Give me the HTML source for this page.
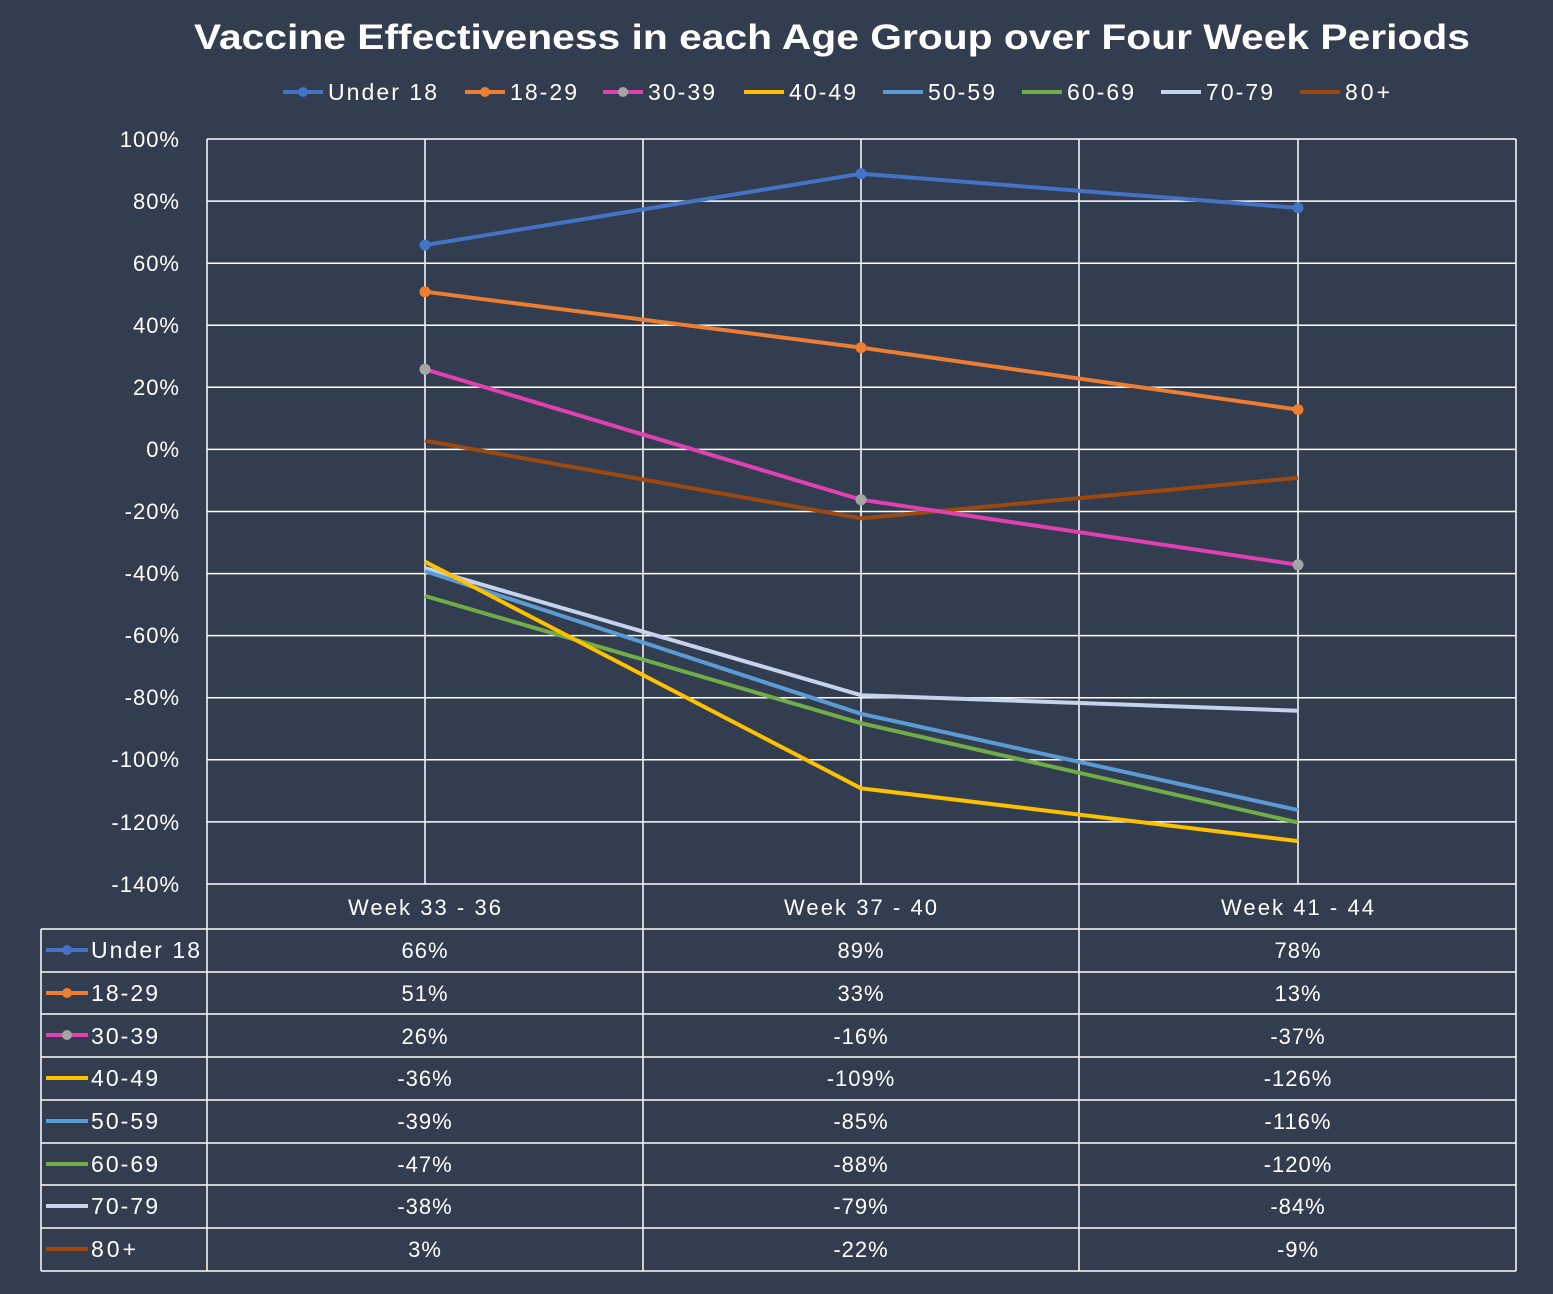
<!DOCTYPE html>
<html><head><meta charset="utf-8"><style>
html,body{margin:0;padding:0;background:#333d50;}
svg{display:block;}
text{font-family:"Liberation Sans",sans-serif;fill:#fff;}
</style></head><body>
<svg width="1553" height="1294" viewBox="0 0 1553 1294" xmlns="http://www.w3.org/2000/svg">
<rect width="1553" height="1294" fill="#333d50"/>
<text x="832" y="49" text-anchor="middle" font-size="35" font-weight="bold" textLength="1276" lengthAdjust="spacingAndGlyphs">Vaccine Effectiveness in each Age Group over Four Week Periods</text>
<!-- legend -->
<g font-size="23" stroke-width="4">
<line x1="283" y1="92" x2="323" y2="92" stroke="#4472c4"/><circle cx="303" cy="92" r="5" fill="#4472c4"/><text x="328" y="100" stroke="none" textLength="109">Under 18</text>
<line x1="465" y1="92" x2="505" y2="92" stroke="#ed7d31"/><circle cx="485" cy="92" r="5" fill="#ed7d31"/><text x="510" y="100" stroke="none" textLength="67">18-29</text>
<line x1="603" y1="92" x2="643" y2="92" stroke="#e040b0"/><circle cx="623" cy="92" r="5" fill="#a5a5a5" stroke="none"/><text x="648" y="100" stroke="none" textLength="67">30-39</text>
<line x1="744" y1="92" x2="784" y2="92" stroke="#ffc000"/><text x="789" y="100" stroke="none" textLength="67">40-49</text>
<line x1="883" y1="92" x2="923" y2="92" stroke="#5b9bd5"/><text x="928" y="100" stroke="none" textLength="67">50-59</text>
<line x1="1022" y1="92" x2="1062" y2="92" stroke="#70ad47"/><text x="1067" y="100" stroke="none" textLength="67">60-69</text>
<line x1="1161" y1="92" x2="1201" y2="92" stroke="#c5d3ec"/><text x="1206" y="100" stroke="none" textLength="67">70-79</text>
<line x1="1300" y1="92" x2="1340" y2="92" stroke="#9e480e"/><text x="1345" y="100" stroke="none" textLength="45">80+</text>
</g>
<!-- grid -->
<g stroke="#ffffff" stroke-width="1.5">
<line x1="207" y1="139" x2="1516" y2="139"/><line x1="207" y1="201.1" x2="1516" y2="201.1"/>
<line x1="207" y1="263.2" x2="1516" y2="263.2"/><line x1="207" y1="325.2" x2="1516" y2="325.2"/>
<line x1="207" y1="387.3" x2="1516" y2="387.3"/><line x1="207" y1="449.4" x2="1516" y2="449.4"/>
<line x1="207" y1="511.5" x2="1516" y2="511.5"/><line x1="207" y1="573.6" x2="1516" y2="573.6"/>
<line x1="207" y1="635.6" x2="1516" y2="635.6"/><line x1="207" y1="697.7" x2="1516" y2="697.7"/>
<line x1="207" y1="759.8" x2="1516" y2="759.8"/><line x1="207" y1="821.9" x2="1516" y2="821.9"/>
<line x1="207" y1="884" x2="1516" y2="884"/>
<line x1="207" y1="139" x2="207" y2="1271"/><line x1="425" y1="139" x2="425" y2="884"/>
<line x1="643" y1="139" x2="643" y2="1271"/><line x1="861" y1="139" x2="861" y2="884"/>
<line x1="1079" y1="139" x2="1079" y2="1271"/><line x1="1298" y1="139" x2="1298" y2="884"/>
<line x1="1516" y1="139" x2="1516" y2="1271"/>
<line x1="41" y1="929" x2="1516" y2="929"/>
<line x1="41" y1="972" x2="1516" y2="972"/><line x1="41" y1="1014" x2="1516" y2="1014"/>
<line x1="41" y1="1057" x2="1516" y2="1057"/><line x1="41" y1="1100" x2="1516" y2="1100"/>
<line x1="41" y1="1143" x2="1516" y2="1143"/><line x1="41" y1="1185" x2="1516" y2="1185"/>
<line x1="41" y1="1228" x2="1516" y2="1228"/><line x1="41" y1="1271" x2="1516" y2="1271"/>
<line x1="41" y1="929" x2="41" y2="1271"/>
</g>
<!-- y labels -->
<g font-size="22" text-anchor="end" letter-spacing="1">
<text x="180" y="147">100%</text><text x="180" y="209">80%</text><text x="180" y="271">60%</text>
<text x="180" y="333">40%</text><text x="180" y="395">20%</text><text x="180" y="457">0%</text>
<text x="180" y="519">-20%</text><text x="180" y="581">-40%</text><text x="180" y="643">-60%</text>
<text x="180" y="705">-80%</text><text x="180" y="767">-100%</text><text x="180" y="830">-120%</text>
<text x="180" y="892">-140%</text>
</g>
<!-- series -->
<g fill="none" stroke-width="4" stroke-linejoin="round">
<polyline points="425,440.7 861,518.3 1298,477.9" stroke="#9e480e"/>
<polyline points="425,568 861,695.2 1298,710.7" stroke="#c5d3ec"/>
<polyline points="425,595.9 861,723.2 1298,822.5" stroke="#70ad47"/>
<polyline points="425,571.1 861,713.8 1298,810.1" stroke="#5b9bd5"/>
<polyline points="425,561.7 861,788.3 1298,841.1" stroke="#ffc000"/>
<polyline points="425,369.3 861,499.7 1298,564.8" stroke="#e040b0"/>
<polyline points="425,291.7 861,347.6 1298,409.6" stroke="#ed7d31"/>
<polyline points="425,245.1 861,173.7 1298,207.9" stroke="#4472c4"/>
</g>
<g>
<circle cx="425" cy="245.1" r="5.5" fill="#4472c4"/><circle cx="861" cy="173.7" r="5.5" fill="#4472c4"/><circle cx="1298" cy="207.9" r="5.5" fill="#4472c4"/>
<circle cx="425" cy="291.7" r="5.5" fill="#ed7d31"/><circle cx="861" cy="347.6" r="5.5" fill="#ed7d31"/><circle cx="1298" cy="409.6" r="5.5" fill="#ed7d31"/>
<circle cx="425" cy="369.3" r="5.5" fill="#a5a5a5"/><circle cx="861" cy="499.7" r="5.5" fill="#a5a5a5"/><circle cx="1298" cy="564.8" r="5.5" fill="#a5a5a5"/>
</g>
<!-- table -->
<g font-size="22" text-anchor="middle" letter-spacing="1">
<text x="425" y="915" textLength="154">Week 33 - 36</text><text x="861" y="915" textLength="154">Week 37 - 40</text><text x="1298" y="915" textLength="154">Week 41 - 44</text>
<text x="425" y="958">66%</text><text x="861" y="958">89%</text><text x="1298" y="958">78%</text>
<text x="425" y="1001">51%</text><text x="861" y="1001">33%</text><text x="1298" y="1001">13%</text>
<text x="425" y="1044">26%</text><text x="861" y="1044">-16%</text><text x="1298" y="1044">-37%</text>
<text x="425" y="1086">-36%</text><text x="861" y="1086">-109%</text><text x="1298" y="1086">-126%</text>
<text x="425" y="1129">-39%</text><text x="861" y="1129">-85%</text><text x="1298" y="1129">-116%</text>
<text x="425" y="1172">-47%</text><text x="861" y="1172">-88%</text><text x="1298" y="1172">-120%</text>
<text x="425" y="1214">-38%</text><text x="861" y="1214">-79%</text><text x="1298" y="1214">-84%</text>
<text x="425" y="1257">3%</text><text x="861" y="1257">-22%</text><text x="1298" y="1257">-9%</text>
</g>
<g font-size="23" stroke-width="4">
<line x1="46" y1="950" x2="88" y2="950" stroke="#4472c4"/><circle cx="67" cy="950" r="5" fill="#4472c4"/><text x="91" y="958" stroke="none" textLength="109">Under 18</text>
<line x1="46" y1="993" x2="88" y2="993" stroke="#ed7d31"/><circle cx="67" cy="993" r="5" fill="#ed7d31"/><text x="91" y="1001" stroke="none" textLength="67">18-29</text>
<line x1="46" y1="1035" x2="88" y2="1035" stroke="#e040b0"/><circle cx="67" cy="1035" r="5" fill="#a5a5a5" stroke="none"/><text x="91" y="1044" stroke="none" textLength="67">30-39</text>
<line x1="46" y1="1078" x2="88" y2="1078" stroke="#ffc000"/><text x="91" y="1086" stroke="none" textLength="67">40-49</text>
<line x1="46" y1="1121" x2="88" y2="1121" stroke="#5b9bd5"/><text x="91" y="1129" stroke="none" textLength="67">50-59</text>
<line x1="46" y1="1164" x2="88" y2="1164" stroke="#70ad47"/><text x="91" y="1172" stroke="none" textLength="67">60-69</text>
<line x1="46" y1="1206" x2="88" y2="1206" stroke="#c5d3ec"/><text x="91" y="1214" stroke="none" textLength="67">70-79</text>
<line x1="46" y1="1249" x2="88" y2="1249" stroke="#9e480e"/><text x="91" y="1257" stroke="none" textLength="45">80+</text>
</g>
</svg>
</body></html>
